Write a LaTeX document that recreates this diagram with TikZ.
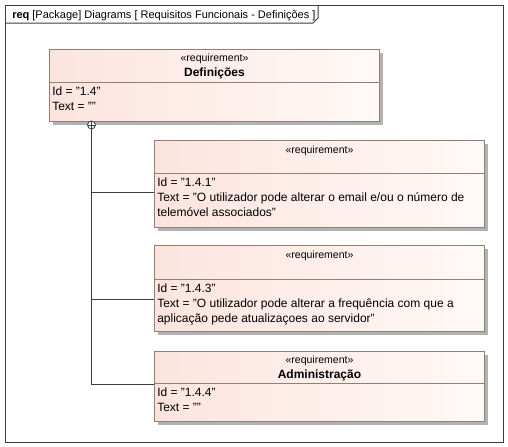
\documentclass[tikz,border=0pt]{standalone}
\usepackage{fontspec}
\setmainfont{Liberation Sans}
\usetikzlibrary{calc, positioning, shadows}

\definecolor{reqborder}{RGB}{146,128,114}
\definecolor{reqpink}{RGB}{252,228,222}
\definecolor{reqlight}{RGB}{255,249,247}
\definecolor{reqshadow}{RGB}{178,178,178}
\definecolor{frameline}{RGB}{60,60,60}

\tikzset{
	sysml/.is family,
	sysml/.cd,
	frame/.style = {
		draw = frameline,
		line width = 0.9pt,
		anchor = north west,
		inner sep = 0pt,
		minimum width = 373.5pt,
		minimum height = 327.75pt,
	},
	requirement/.style = {
		draw = reqborder,
		line width = 0.75pt,
		left color = reqpink,
		right color = reqlight,
		anchor = north west,
		inner sep = 0pt,
		minimum width = 247.5pt,
		drop shadow = {shadow xshift=2.25pt, shadow yshift=-2.25pt, fill=reqshadow, opacity=1},
	},
	stereotype/.style = {
		inner sep = 0pt,
		font = \fontsize{7.9}{9}\selectfont,
	},
	name/.style = {
		inner sep = 0pt,
		font = \fontsize{9}{10}\selectfont\bfseries,
	},
	attributes/.style = {
		inner sep = 0pt,
		anchor = north west,
		align = left,
		font = \fontsize{9}{11.25}\selectfont,
	},
	divider/.style = {
		draw = reqborder,
		line width = 0.75pt,
	},
	link/.style = {
		draw = frameline,
		line width = 0.75pt,
	},
	containment/.style = {
		circle,
		draw = frameline,
		line width = 0.6pt,
		fill = white,
		inner sep = 0pt,
		minimum size = 6pt,
		path picture = {
			\draw[line width = 0.6pt]
				(path picture bounding box.north) -- (path picture bounding box.south)
				(path picture bounding box.west) -- (path picture bounding box.east);
		},
	},
}

\begin{document}
\begin{tikzpicture}[x = 0.75pt, y = -0.75pt]
	\useasboundingbox (0, 0) rectangle (508, 447);

	% diagram frame with its name tab
	\node[sysml/frame] (frame) at (5, 5) {};
	\draw[sysml/link] ($(frame.north west) + (0, 18)$) -- ++(308, 0) -- ++(5, -5) -- ++(0, -13);
	\node[anchor = base west, inner sep = 0pt, font = \fontsize{8.25}{10}\selectfont] (title) at (12, 18)
		{\textbf{req} [Package] Diagrams [ Requisitos Funcionais - Definições ]};

	% parent requirement
	\node[sysml/requirement, minimum height = 54pt] (definicoes) at (49, 49) {};
	\node[sysml/stereotype] (definicoes stereo) at ($(definicoes.north) + (0, 10)$) {«requirement»};
	\node[sysml/name] (definicoes name) at ($(definicoes.north) + (0, 24)$) {Definições};
	\draw[sysml/divider] ($(definicoes.north west) + (0, 33)$) -- ($(definicoes.north east) + (0, 33)$);
	\node[sysml/attributes] (definicoes attr) at ($(definicoes.north west) + (3, 38)$)
		{Id = "1.4"\\Text = ""};

	% sub-requirements
	\node[sysml/requirement, minimum height = 65.25pt] (req141) at (154, 140) {};
	\node[sysml/stereotype] (req141 stereo) at ($(req141.north) + (0, 11)$) {«requirement»};
	\draw[sysml/divider] ($(req141.north west) + (0, 33)$) -- ($(req141.north east) + (0, 33)$);
	\node[sysml/attributes] (req141 attr) at ($(req141.north west) + (3, 38)$)
		{Id = "1.4.1"\\Text = "O utilizador pode alterar o email e/ou o número de\\telemóvel associados"};

	\node[sysml/requirement, minimum height = 64.5pt] (req143) at (154, 245) {};
	\node[sysml/stereotype] (req143 stereo) at ($(req143.north) + (0, 11)$) {«requirement»};
	\draw[sysml/divider] ($(req143.north west) + (0, 34)$) -- ($(req143.north east) + (0, 34)$);
	\node[sysml/attributes] (req143 attr) at ($(req143.north west) + (3, 39)$)
		{Id = "1.4.3"\\Text = "O utilizador pode alterar a frequência com que a\\aplicação pede atualizaçoes ao servidor"};

	\node[sysml/requirement, minimum height = 52.5pt] (req144) at (154, 351) {};
	\node[sysml/stereotype] (req144 stereo) at ($(req144.north) + (0, 10)$) {«requirement»};
	\node[sysml/name] (req144 name) at ($(req144.north) + (0, 24)$) {Administração};
	\draw[sysml/divider] ($(req144.north west) + (0, 32)$) -- ($(req144.north east) + (0, 32)$);
	\node[sysml/attributes] (req144 attr) at ($(req144.north west) + (3, 37)$)
		{Id = "1.4.4"\\Text = ""};

	% containment tree
	\node[sysml/containment] (contain) at (91.5, 125) {};
	\coordinate (req141 in) at ($(req141.north west) + (0, 52)$);
	\coordinate (req143 in) at ($(req143.north west) + (0, 54)$);
	\coordinate (req144 in) at ($(req144.north west) + (0, 33)$);
	\draw[sysml/link] (contain.south) |- (req144 in);
	\draw[sysml/link] (contain.south) |- (req143 in);
	\draw[sysml/link] (contain.south) |- (req141 in);
\end{tikzpicture}
\end{document}
